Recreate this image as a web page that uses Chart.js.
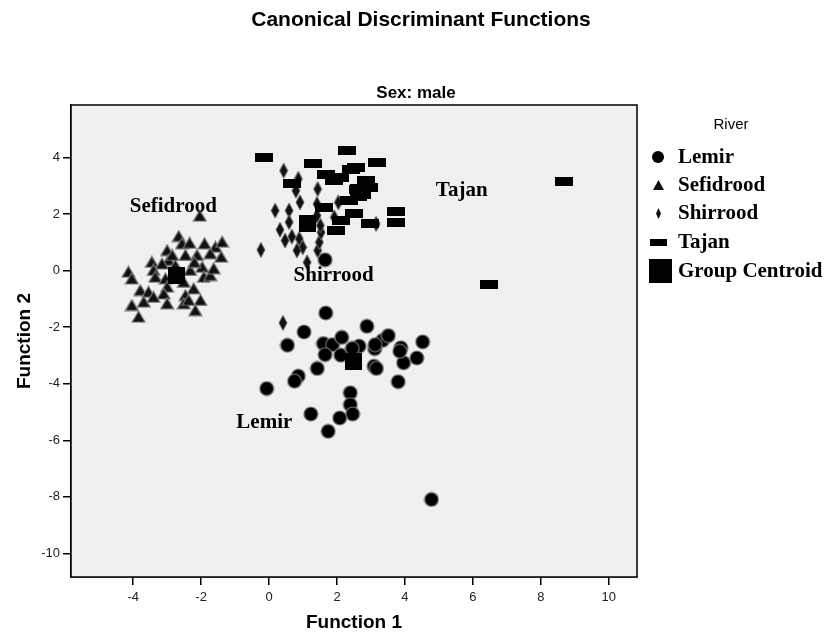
<!DOCTYPE html>
<html>
<head>
<meta charset="utf-8">
<style>
  html, body { margin: 0; padding: 0; background: #ffffff; }
  #wrap { position: relative; width: 833px; height: 637px; }
</style>
<script src="https://cdn.jsdelivr.net/npm/chart.js@4.4.0/dist/chart.umd.min.js"></script>
</head>
<body>
<div id="wrap"><canvas id="c" width="833" height="637"></canvas></div>
<script>
// ---------------- DATA ----------------
const chartTitle = "Canonical Discriminant Functions";
const panelTitle = "Sex: male";
const xAxisTitle = "Function 1";
const yAxisTitle = "Function 2";
const legendTitle = "River";
const groupNames = ["Lemir", "Sefidrood", "Shirrood", "Tajan"];
const centroidName = "Group Centroid";

const xTicks = [-4, -2, 0, 2, 4, 6, 8, 10];
const yTicks = [-10, -8, -6, -4, -2, 0, 2, 4];

const lemirX = [1.67, 1.03, 0.54, 2.88, 1.60, 1.87, 2.14, 1.65, 2.11, 2.65, 3.34, 3.51, 3.11, 3.88, 4.52, 3.96, 4.35, 3.80, 3.09, 3.16, 1.42, 0.86, 0.75, -0.07, 2.39, 2.39, 2.46, 2.08, 1.23, 1.74, 3.85, 2.45, 3.12, 4.78, 1.65];
const lemirY = [-1.50, -2.17, -2.64, -1.97, -2.58, -2.62, -2.36, -2.97, -2.99, -2.67, -2.47, -2.30, -2.76, -2.73, -2.52, -3.26, -3.09, -3.93, -3.38, -3.46, -3.46, -3.73, -3.91, -4.17, -4.32, -4.74, -5.07, -5.21, -5.07, -5.68, -2.85, -2.75, -2.62, -8.09, 0.38];

const sefidX = [-2.04, -2.66, -3.00, -2.56, -2.34, -1.90, -1.58, -1.38, -1.41, -1.73, -2.12, -2.46, -2.96, -3.45, -3.15, -4.14, -4.04, -3.40, -3.35, -3.05, -2.32, -1.97, -1.92, -1.73, -2.51, -2.22, -3.79, -3.55, -3.00, -3.10, -3.40, -3.69, -4.04, -3.84, -3.00, -2.46, -2.51, -2.02, -2.17, -2.37, -2.76, -1.63, -2.85, -2.20];
const sefidY = [1.94, 1.22, 0.72, 0.96, 0.98, 0.96, 0.84, 1.02, 0.49, 0.61, 0.55, 0.55, 0.37, 0.31, 0.25, -0.04, -0.28, 0.02, -0.22, -0.28, 0.02, 0.13, -0.22, -0.16, -0.40, -0.63, -0.69, -0.75, -0.57, -0.81, -0.93, -1.10, -1.22, -1.63, -1.16, -0.87, -1.16, -1.04, -1.40, -1.04, 0.19, 0.08, 0.55, 0.30];

const shirX = [0.43, 0.86, 0.79, 1.43, 0.91, 0.18, 0.59, 1.41, 2.04, 0.59, 0.32, 0.67, 0.47, 0.89, 0.99, 0.82, -0.24, 1.12, 1.43, 1.48, 1.53, 1.51, 1.41, 3.15, 1.92, 0.41];
const shirY = [3.53, 3.24, 2.82, 2.88, 2.41, 2.12, 2.12, 2.35, 2.41, 1.71, 1.44, 1.20, 1.06, 1.12, 0.82, 0.71, 0.73, 0.29, 0.71, 1.00, 1.35, 1.59, 1.94, 1.65, 1.88, -1.85];

const tajanX = [-0.14, 2.29, 1.30, 3.17, 1.67, 2.56, 1.92, 2.85, 0.68, 2.61, 2.36, 1.61, 2.51, 3.74, 3.74, 2.96, 2.12, 1.97, 8.67, 6.48, 2.40, 2.10, 2.95, 2.75];
const tajanY = [4.00, 4.24, 3.79, 3.81, 3.41, 3.65, 3.18, 3.18, 3.06, 2.88, 2.49, 2.24, 2.02, 2.09, 1.70, 1.67, 1.76, 1.43, 3.16, -0.51, 3.57, 3.30, 2.95, 2.70];

const centroidX = [2.48, -2.71, 1.12, 2.62];
const centroidY = [-3.23, -0.16, 1.67, 2.75];

// plot annotations: group names placed at their positions (data units)
const annotText = ["Sefidrood", "Shirrood", "Tajan", "Lemir"];
const annotX = [-2.82, 1.90, 5.67, -0.14];
const annotY = [2.27, -0.18, 2.84, -5.38];

// ---------------- MARKERS ----------------
function mk(w, h, fn) {
  const c = document.createElement('canvas');
  c.width = w; c.height = h;
  fn(c.getContext('2d'), w, h);
  return c;
}
function circleM(d, border) {
  return mk(d + 2, d + 2, (g, w, h) => {
    g.beginPath(); g.arc(w / 2, h / 2, d / 2, 0, Math.PI * 2);
    g.fillStyle = '#000'; g.fill();
    if (border) { g.lineWidth = 1.2; g.strokeStyle = '#7a7a7a'; g.stroke(); }
  });
}
function triM(w0, h0, border) {
  return mk(w0 + 2, h0 + 2, (g, w, h) => {
    g.beginPath(); g.moveTo(w / 2, 1); g.lineTo(w - 1, h - 1); g.lineTo(1, h - 1); g.closePath();
    g.fillStyle = '#111'; g.fill();
    if (border) { g.lineWidth = 1.2; g.strokeStyle = '#7a7a7a'; g.stroke(); }
  });
}
function diaM(w0, h0, border) {
  return mk(w0 + 2, h0 + 2, (g, w, h) => {
    g.beginPath(); g.moveTo(w / 2, 1); g.lineTo(w - 1, h / 2); g.lineTo(w / 2, h - 1); g.lineTo(1, h / 2); g.closePath();
    g.fillStyle = '#111'; g.fill();
    if (border) { g.lineWidth = 1; g.strokeStyle = '#6a6a6a'; g.stroke(); }
  });
}
function rectM(w0, h0) {
  return mk(w0, h0, (g, w, h) => { g.fillStyle = '#000'; g.fillRect(0, 0, w, h); });
}

const mLemir = circleM(14, true);
const mSefid = triM(13, 11, true);
const mShir = diaM(8, 15, true);
const mTajan = rectM(18, 9);
const mCent = rectM(17, 17);

const lgLemir = circleM(12, false);
const lgSefid = triM(11, 10, false);
const lgShir = diaM(5, 11, false);
const lgTajan = rectM(17, 7);
const lgCent = rectM(23, 24);

function pts(xs, ys) { return xs.map((x, i) => ({ x: x, y: ys[i] })); }

// ---------------- PLUGIN ----------------
const FONT_SANS = '"Liberation Sans", Arial, sans-serif';
const FONT_SERIF = '"Liberation Serif", "Times New Roman", serif';

const decor = {
  id: 'decor',
  beforeDatasetsDraw(chart) {
    const a = chart.chartArea, g = chart.ctx;
    g.save(); g.fillStyle = '#f0f0f0';
    g.fillRect(a.left, a.top, a.right - a.left, a.bottom - a.top);
    g.restore();
  },
  afterDatasetsDraw(chart) {
    const g = chart.ctx, a = chart.chartArea;
    const xs = chart.scales.x, ys = chart.scales.y;
    g.save();
    g.fillStyle = '#000';
    g.font = 'bold 21px ' + FONT_SERIF;
    g.textAlign = 'center'; g.textBaseline = 'middle';
    annotText.forEach((t, i) => {
      g.fillText(t, xs.getPixelForValue(annotX[i]), ys.getPixelForValue(annotY[i]));
    });
    g.strokeStyle = '#000'; g.lineWidth = 1.5;
    g.strokeRect(a.left, a.top, a.right - a.left, a.bottom - a.top);
    g.restore();
  },
  afterDraw(chart) {
    const g = chart.ctx, a = chart.chartArea;
    g.save();
    g.fillStyle = '#000';
    g.textAlign = 'center'; g.textBaseline = 'middle';
    g.font = 'bold 21px ' + FONT_SANS;
    g.fillText(chartTitle, 421, 20);
    g.font = 'bold 17px ' + FONT_SANS;
    g.fillText(panelTitle, 416, 93);
    g.font = 'bold 19px ' + FONT_SANS;
    g.fillText(xAxisTitle, (a.left + a.right) / 2, 623);
    g.save(); g.translate(25, 341); g.rotate(-Math.PI / 2);
    g.fillText(yAxisTitle, 0, 0); g.restore();
    // legend
    g.font = '15px ' + FONT_SANS;
    g.fillText(legendTitle, 731, 125);
    const icons = [lgLemir, lgSefid, lgShir, lgTajan, lgCent];
    const names = groupNames.concat([centroidName]);
    const rowY = [157, 185, 213, 242, 271];
    g.font = 'bold 21px ' + FONT_SERIF;
    g.textAlign = 'left';
    names.forEach((n, i) => {
      const im = icons[i];
      const cx = i === 4 ? 660 : 658;
      g.drawImage(im, Math.round(cx - im.width / 2), Math.round(rowY[i] - im.height / 2));
      g.fillText(n, 678, rowY[i] + 1);
    });
    g.restore();
  }
};

// ---------------- CHART ----------------
const ds = (label, xs, ys, style, order) => ({
  label: label, data: pts(xs, ys), pointStyle: style, order: order,
  pointRadius: 7, pointHoverRadius: 7, showLine: false
});

new Chart(document.getElementById('c'), {
  type: 'scatter',
  data: {
    datasets: [
      ds(centroidName, centroidX, centroidY, mCent, 0),
      ds(groupNames[3], tajanX, tajanY, mTajan, 1),
      ds(groupNames[2], shirX, shirY, mShir, 2),
      ds(groupNames[1], sefidX, sefidY, mSefid, 3),
      ds(groupNames[0], lemirX, lemirY, mLemir, 4)
    ]
  },
  options: {
    responsive: false,
    animation: false,
    devicePixelRatio: 1,
    layout: { padding: { left: 0, top: 105, right: 196, bottom: 0 } },
    plugins: { legend: { display: false }, title: { display: false }, tooltip: { enabled: false } },
    scales: {
      x: {
        type: 'linear', min: -5.83, max: 10.83,
        afterFit(s) { s.height = 60; },
        afterBuildTicks(s) { s.ticks = xTicks.map(v => ({ value: v })); },
        grid: { display: true, drawOnChartArea: false, drawTicks: true, tickLength: 8, color: '#000', lineWidth: 1.5 },
        border: { display: true, color: '#000', width: 1.5 },
        ticks: { color: '#222', font: { family: FONT_SANS, size: 13 }, padding: 5, maxRotation: 0, autoSkip: false }
      },
      y: {
        type: 'linear', min: -10.83, max: 5.85,
        afterFit(s) { s.width = 71; },
        afterBuildTicks(s) { s.ticks = yTicks.map(v => ({ value: v })); },
        grid: { display: true, drawOnChartArea: false, drawTicks: true, tickLength: 8, color: '#000', lineWidth: 1.5 },
        border: { display: true, color: '#000', width: 1.5 },
        ticks: { color: '#222', font: { family: FONT_SANS, size: 13 }, padding: 3, autoSkip: false }
      }
    }
  },
  plugins: [decor]
});
</script>
</body>
</html>
